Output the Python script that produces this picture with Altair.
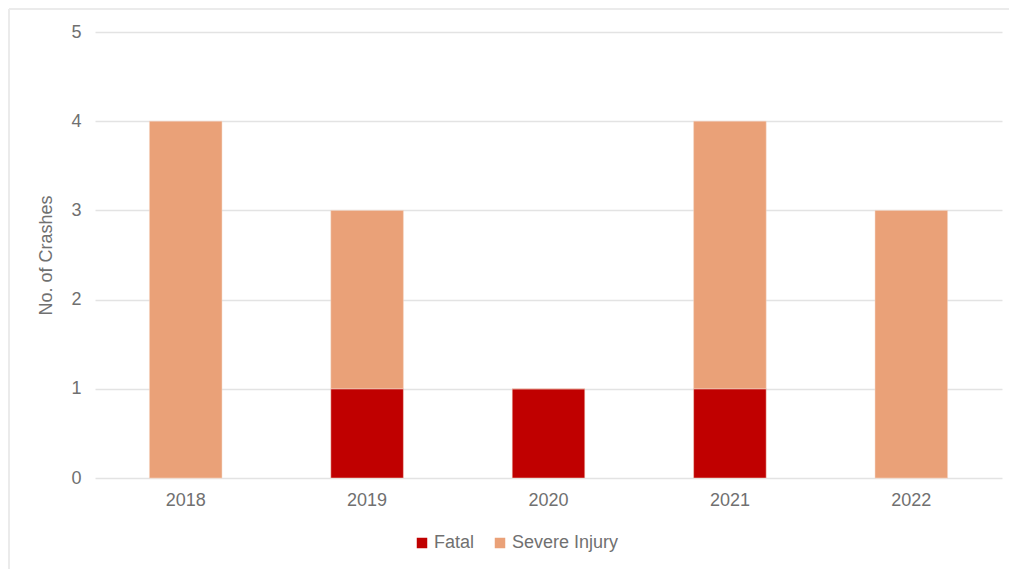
import altair as alt
import pandas as pd

years = ["2018", "2019", "2020", "2021", "2022"]
fatal = [0, 1, 1, 1, 0]
severe = [4, 2, 0, 3, 3]

rows = []
for y, f, s in zip(years, fatal, severe):
    rows.append({"Year": y, "Type": "Fatal", "Crashes": f, "order": 0})
    rows.append({"Year": y, "Type": "Severe Injury", "Crashes": s, "order": 1})
df = pd.DataFrame(rows)

font = "Liberation Sans"
gray = "#707070"

bars = alt.Chart(df).mark_bar(stroke="#F5D9C8", strokeWidth=0.5).encode(
    x=alt.X("Year:N", title=None,
            scale=alt.Scale(paddingInner=0.6, paddingOuter=0.3),
            axis=alt.Axis(labelAngle=0, domain=False, ticks=False, grid=False,
                          labelFontSize=18, labelColor=gray, labelFont=font,
                          labelPadding=13)),
    y=alt.Y("Crashes:Q", title="No. of Crashes", stack="zero",
            scale=alt.Scale(domain=[0, 5]),
            axis=alt.Axis(values=[0, 1, 2, 3, 4, 5], domain=False, ticks=False,
                          labelFontSize=18, labelColor=gray, labelFont=font, labelPadding=14,
                          titleFontSize=18, titleColor=gray, titleFont=font,
                          titleFontWeight="normal", titlePadding=15,
                          gridColor="#E3E3E3", gridWidth=1.5)),
    color=alt.Color("Type:N", title=None,
                    scale=alt.Scale(domain=["Fatal", "Severe Injury"],
                                    range=["#C00000", "#EAA178"]),
                    legend=alt.Legend(orient="none", direction="horizontal",
                                      legendX=318, legendY=502,
                                      symbolType="square", symbolSize=110,
                                      symbolStrokeWidth=0,
                                      labelFontSize=18, labelColor=gray, labelFont=font,
                                      columnPadding=16, labelOffset=3)),
    order=alt.Order("order:Q"),
)

border = pd.DataFrame({"a": [1]})
left = alt.Chart(border).mark_rule(color="#EBEBEB", strokeWidth=2).encode(
    x=alt.value(-86), y=alt.value(-23), y2=alt.value(540))
top = alt.Chart(border).mark_rule(color="#EBEBEB", strokeWidth=2).encode(
    x=alt.value(-86), x2=alt.value(915), y=alt.value(-23))

chart = alt.layer(left, top, bars).properties(
    width=907, height=446,
    background="white",
    autosize=alt.AutoSizeParams(type="none"),
    padding={"left": 95, "top": 32, "right": 7, "bottom": 91},
).configure_view(strokeWidth=0, stroke=None)

chart.save("out.html", embed_options={"renderer": "svg", "actions": False})
